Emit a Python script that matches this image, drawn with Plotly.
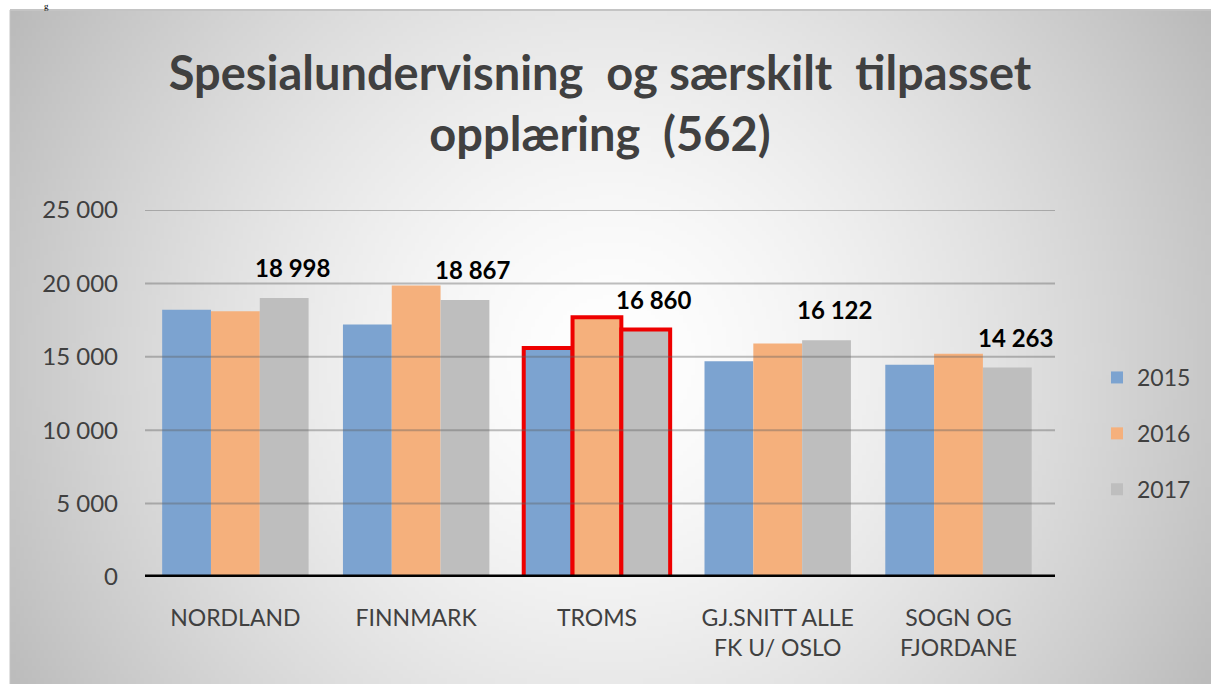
import base64, struct, zlib
import numpy as np
import plotly.graph_objects as go

# ---------------- data ----------------
categories = ["NORDLAND", "FINNMARK", "TROMS", "GJ.SNITT ALLE<br>FK U/ OSLO", "SOGN OG<br>FJORDANE"]
years = ["2015", "2016", "2017"]
v2015 = [18200, 17200, 15600, 14700, 14450]
v2016 = [18100, 19850, 17700, 15900, 15200]
v2017 = [18998, 18867, 16860, 16122, 14263]
highlight = [False, False, True, False, False]
y_ticks = [0, 5000, 10000, 15000, 20000, 25000]
y_ticktext = ["0", "5 000", "10 000", "15 000", "20 000", "25 000"]
title_text = "Spesialundervisning\u00a0 og særskilt\u00a0 tilpasset<br>opplæring\u00a0 (562)"

colors = ["#7ca3d0", "#f5b07c", "#bebebe"]

# ---------------- background gradient image ----------------
W, H = 301, 169
xs = np.linspace(10, 1211, W)
ys = np.linspace(10, 684, H)
X, Y = np.meshgrid(xs, ys)
d = np.hypot(X - 610, Y - 360)
c = np.clip(255 - 55 * (d / 600) ** 1.5, 185, 255).astype(np.uint8)
raw = b"".join(b"\x00" + row.tobytes() for row in c)


def chunk(t, data):
    return struct.pack(">I", len(data)) + t + data + struct.pack(">I", zlib.crc32(t + data) & 0xFFFFFFFF)


png = (b"\x89PNG\r\n\x1a\n" + chunk(b"IHDR", struct.pack(">IIBBBBB", W, H, 8, 0, 0, 0, 0))
       + chunk(b"IDAT", zlib.compress(raw, 9)) + chunk(b"IEND", b""))
src = "data:image/png;base64," + base64.b64encode(png).decode()

# plot area in px
L, R, T, B = 145, 1055, 210, 577
pw, ph = R - L, B - T


def px(x):
    return (x - L) / pw


def py(y):
    return (B - y) / ph


fig = go.Figure()
for name, vals, col in zip(years, [v2015, v2016, v2017], colors):
    fig.add_trace(go.Bar(
        x=categories, y=vals, name=name, legendgroup=name,
        marker=dict(color=col,
                    line=dict(color="#ee0000", width=[4 if h else 0 for h in highlight])),
        hoverinfo="skip",
    ))

# data labels for 2017
for cat, v in zip(categories, v2017):
    fig.add_annotation(x=cat, y=v, text="<b>" + f"{v:,}".replace(",", " ") + "</b>",
                       showarrow=False, xshift=57, yshift=14, yanchor="bottom",
                       font=dict(family="Lato", size=24, color="#000000"))

# gridlines over the bars (semi transparent) and black base line
for v in y_ticks[1:]:
    fig.add_hline(y=v, line_color="rgba(95,95,95,0.40)", line_width=2, layer="above")
fig.add_hline(y=0, line_color="#000000", line_width=5, layer="above")

fig.add_layout_image(source=src, xref="paper", yref="paper", x=px(10), y=py(10),
                     sizex=px(1211) - px(10), sizey=py(10) - py(684),
                     sizing="stretch", layer="below", xanchor="left", yanchor="top")
fig.add_shape(type="line", xref="paper", yref="paper", x0=px(10), x1=px(1211), y0=py(10), y1=py(10),
              line=dict(color="#c4c4c4", width=2))
fig.add_shape(type="line", xref="paper", yref="paper", x0=px(10), x1=px(10), y0=py(10), y1=py(684),
              line=dict(color="#c4c4c4", width=1))

fig.add_annotation(xref="paper", yref="paper", x=px(43), y=py(0), text="g", showarrow=False,
                   font=dict(family="Liberation Serif", size=9, color="#000000"),
                   yanchor="top", borderpad=0)

fig.update_layout(
    width=1211, height=684,
    margin=dict(l=L, r=1211 - R, t=T, b=684 - B),
    paper_bgcolor="#ffffff", plot_bgcolor="rgba(0,0,0,0)",
    barmode="group", bargap=0.19, bargroupgap=0,
    separators=", ",
    title=dict(text="<b>" + title_text + "</b>", x=0.5, xref="paper", xanchor="center",
               y=1 - 90 / 684, yanchor="middle",
               font=dict(family="Lato", size=47, color="#404040")),
    font=dict(family="Lato", color="#404040"),
    legend=dict(xref="container", yref="container", x=1097 / 1211, y=1 - 356 / 684,
                xanchor="left", yanchor="top", tracegroupgap=23,
                font=dict(family="Lato", size=23, color="#404040"),
                bgcolor="rgba(0,0,0,0)"),
    showlegend=True,
    hovermode=False,
)
fig.update_xaxes(showgrid=False, showline=False, ticks="", ticklabelstandoff=25,
                 tickfont=dict(family="Lato", size=23, color="#404040"))
fig.update_yaxes(range=[0, 25000], tickvals=y_ticks, ticktext=y_ticktext, showgrid=False,
                 zeroline=False, showline=False, ticks="", ticklabelstandoff=26,
                 tickfont=dict(family="Lato", size=24, color="#404040"))

fig.write_html("out.html", config={"displayModeBar": False},
               post_script="document.body.style.margin='0px';")
